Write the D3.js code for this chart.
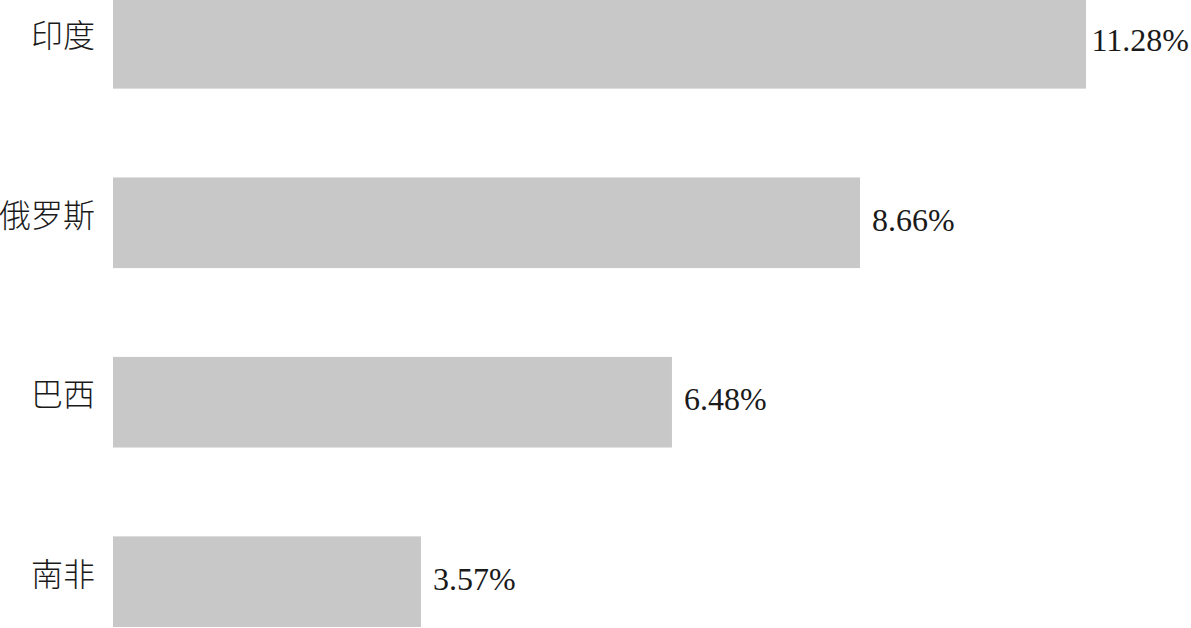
<!DOCTYPE html>
<html>
<head>
<meta charset="utf-8">
<script src="https://cdn.jsdelivr.net/npm/d3@7"></script>
<style>
  body { margin: 0; background: #fff; }
</style>
</head>
<body>
<div id="chart"></div>
<script>
var width = 1191,
    height = 628;

// data
var countries = ["印度", "俄罗斯", "巴西", "南非"];
var values = [11.28, 8.66, 6.48, 3.57];
var labels = ["11.28%", "8.66%", "6.48%", "3.57%"];

var data = countries.map(function (c, i) {
    return { name: c, value: values[i], label: labels[i] };
});

var svg = d3.select("#chart").append("svg")
    .attr("width", width)
    .attr("height", height);

var x = d3.scaleLinear()
    .domain([0, 11.28])
    .range([113, 1086]);

var y = d3.scaleBand()
    .domain(countries)
    .range([-2, 627])
    .paddingInner(0.495)
    .paddingOuter(0);

// bars
svg.selectAll("rect")
    .data(data)
    .enter().append("rect")
    .attr("x", x(0))
    .attr("y", function (d) { return y(d.name); })
    .attr("width", function (d) { return x(d.value) - x(0); })
    .attr("height", y.bandwidth())
    .attr("fill", "#c8c8c8");

// category labels
svg.selectAll("text.name")
    .data(data)
    .enter().append("text")
    .attr("class", "name")
    .attr("x", 95)
    .attr("y", function (d) { return y(d.name) + y.bandwidth() / 2 + 4; })
    .attr("text-anchor", "end")
    .attr("font-family", "'Noto Sans CJK SC', sans-serif")
    .attr("font-weight", 300)
    .attr("font-size", 32)
    .attr("fill", "#1a1a1a")
    .text(function (d) { return d.name; });

// value labels
svg.selectAll("text.value")
    .data(data)
    .enter().append("text")
    .attr("class", "value")
    .attr("y", function (d) { return y(d.name) + y.bandwidth() / 2 + 8; })
    .attr("font-family", "'Liberation Serif', 'Times New Roman', serif")
    .attr("font-size", 32)
    .attr("fill", "#1a1a1a")
    .text(function (d) { return d.label; })
    .attr("x", function (d) {
        var w = this.getComputedTextLength();
        return Math.min(x(d.value) + 12, width - w - 2);
    });
</script>
</body>
</html>
